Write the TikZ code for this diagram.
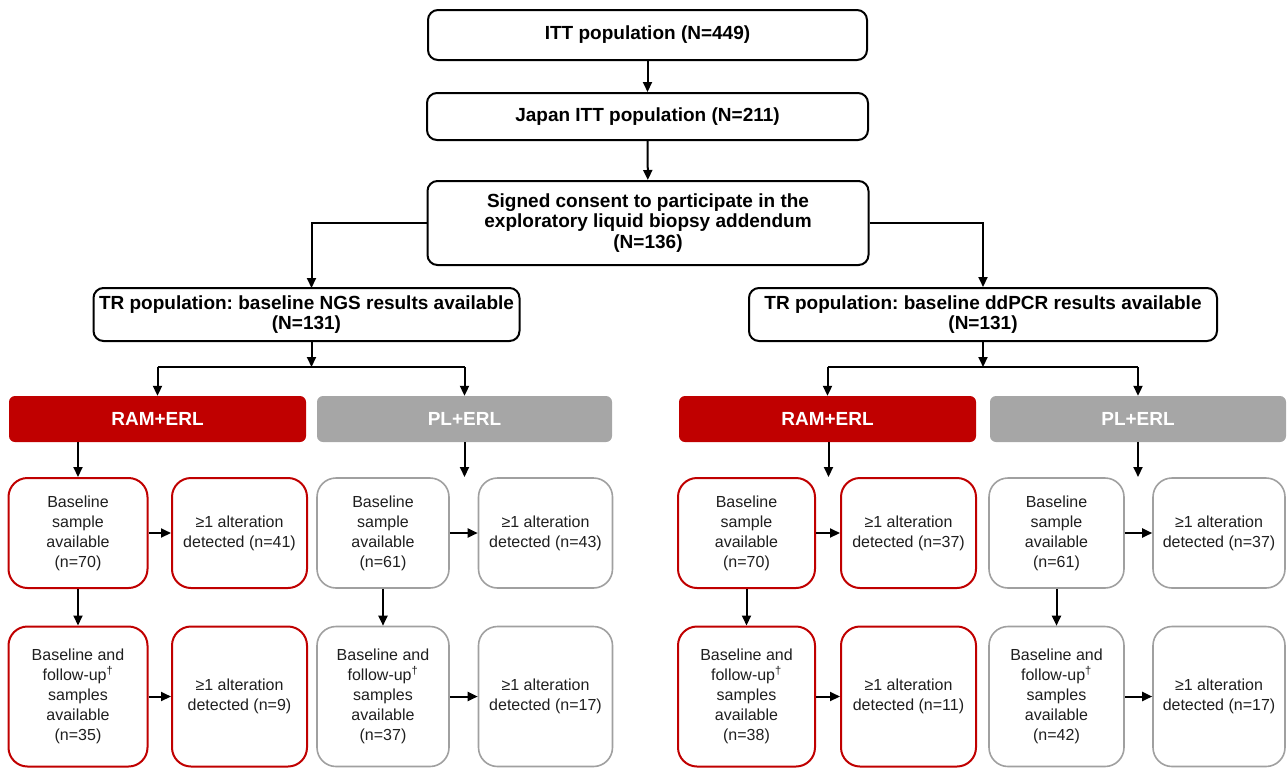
\documentclass[tikz,border=0pt]{standalone}
\usepackage{fontspec}
\setmainfont{Liberation Sans}
\usetikzlibrary{arrows.meta}
\definecolor{tred}{HTML}{C00000}
\definecolor{tgray}{HTML}{A6A6A6}
\definecolor{tgrayline}{HTML}{A0A0A0}
\frenchspacing
\begin{document}
\begin{tikzpicture}[x=1pt,y=-1pt,
 bbox/.style={draw=black, line width=2pt, rounded corners=10pt, align=center,
   font=\bfseries\fontsize{19}{20.5}\selectfont, inner sep=0pt, fill=white},
 hdr/.style={rounded corners=6pt, text=white, font=\bfseries\fontsize{19}{22}\selectfont,
   inner sep=0pt, minimum height=46pt},
 redhdr/.style={hdr, fill=tred},
 grayhdr/.style={hdr, fill=tgray},
 sbox/.style={rounded corners=19pt, align=center, font=\fontsize{16}{20}\selectfont,
   inner sep=0pt, fill=white, text=black!88},
 redbox/.style={sbox, draw=tred, line width=2pt},
 graybox/.style={sbox, draw=tgrayline, line width=1.6pt},
 arr/.style={-{Triangle[length=10pt,width=9pt]}, line width=2pt},
 ln/.style={line width=2pt}
]
\useasboundingbox (0,0) rectangle (1287,769);

% top chain
\node[bbox, minimum width=439pt, minimum height=50pt] (itt) at (647.5,35) {ITT population (N=449)};
\node[bbox, minimum width=441pt, minimum height=47pt] (jpn) at (647.5,116.5) {Japan ITT population (N=211)};
\node[bbox, minimum width=441pt, minimum height=84pt] (cons) at (648,223)
  {Signed consent to participate in the\\exploratory liquid biopsy addendum\\(N=136)};
\node[bbox, minimum width=426pt, minimum height=53pt] (ngs) at (306.5,314.5)
  {TR population: baseline NGS results available\\(N=131)};
\node[bbox, minimum width=468pt, minimum height=53pt] (ddp) at (983,314.5)
  {TR population: baseline ddPCR results available\\(N=131)};

\draw[arr] (itt) -- (jpn);
\draw[arr] (jpn) -- (cons);
\coordinate (ngsin) at (311.5,288);
\draw[arr] (cons.west) -| (ngsin);
\draw[arr] (cons.east) -| (ddp.north);

% arm headers
\node[redhdr, minimum width=297pt] (ram1) at (157.5,419) {RAM+ERL};
\node[grayhdr, minimum width=295pt] (pl1) at (464.5,419) {PL+ERL};
\node[redhdr, minimum width=297pt] (ram2) at (827.5,419) {RAM+ERL};
\node[grayhdr, minimum width=296pt] (pl2) at (1138,419) {PL+ERL};

% splits
\coordinate (ngsout) at (311.5,341);
\coordinate (j1) at (311.5,367);
\draw[arr] (ngsout) -- (j1);
\draw[ln] (ram1.north |- j1) -- (pl1.north |- j1);
\draw[arr] (ram1.north |- j1) -- (ram1.north);
\draw[arr] (pl1.north |- j1) -- (pl1.north);
\coordinate (j2) at (983,367);
\draw[arr] (ddp.south) -- (j2);
\draw[ln] (ram2.north |- j2) -- (pl2.north |- j2);
\draw[arr] (ram2.north |- j2) -- (ram2.north);
\draw[arr] (pl2.north |- j2) -- (pl2.north);

% sample boxes row 1
\node[redbox, minimum width=139pt, minimum height=110pt] (b1) at (78,533)
  {Baseline\\sample\\available\\(n=70)};
\node[redbox, minimum width=135pt, minimum height=110pt] (a1) at (239.5,533)
  {≥1 alteration\\detected (n=41)};
\node[graybox, minimum width=132pt, minimum height=110pt] (b2) at (383,533)
  {Baseline\\sample\\available\\(n=61)};
\node[graybox, minimum width=134pt, minimum height=110pt] (a2) at (545.5,533)
  {≥1 alteration\\detected (n=43)};
\node[redbox, minimum width=137pt, minimum height=110pt] (b3) at (746.5,533)
  {Baseline\\sample\\available\\(n=70)};
\node[redbox, minimum width=135pt, minimum height=110pt] (a3) at (908.5,533)
  {≥1 alteration\\detected (n=37)};
\node[graybox, minimum width=135pt, minimum height=110pt] (b4) at (1056.5,533)
  {Baseline\\sample\\available\\(n=61)};
\node[graybox, minimum width=132pt, minimum height=110pt] (a4) at (1219,533)
  {≥1 alteration\\detected (n=37)};

% sample boxes row 2
\node[redbox, minimum width=139pt, minimum height=140pt] (f1) at (78,696.5)
  {Baseline and\\follow-up\textsuperscript{†}\\samples\\available\\(n=35)};
\node[redbox, minimum width=135pt, minimum height=140pt] (g1) at (239.5,696.5)
  {≥1 alteration\\detected (n=9)};
\node[graybox, minimum width=132pt, minimum height=140pt] (f2) at (383,696.5)
  {Baseline and\\follow-up\textsuperscript{†}\\samples\\available\\(n=37)};
\node[graybox, minimum width=134pt, minimum height=140pt] (g2) at (545.5,696.5)
  {≥1 alteration\\detected (n=17)};
\node[redbox, minimum width=137pt, minimum height=140pt] (f3) at (746.5,696.5)
  {Baseline and\\follow-up\textsuperscript{†}\\samples\\available\\(n=38)};
\node[redbox, minimum width=135pt, minimum height=140pt] (g3) at (908.5,696.5)
  {≥1 alteration\\detected (n=11)};
\node[graybox, minimum width=135pt, minimum height=140pt] (f4) at (1056.5,696.5)
  {Baseline and\\follow-up\textsuperscript{†}\\samples\\available\\(n=42)};
\node[graybox, minimum width=132pt, minimum height=140pt] (g4) at (1219,696.5)
  {≥1 alteration\\detected (n=17)};

% header to samples
\draw[arr] (ram1.south -| b1.north) -- (b1.north);
\coordinate (e1) at (464.5,477);
\draw[arr] (pl1.south) -- (e1);
\coordinate (e2) at (828.5,477);
\draw[arr] (ram2.south -| e2) -- (e2);
\coordinate (e3) at (1138,477);
\draw[arr] (pl2.south) -- (e3);

% within arms
\foreach \i in {1,2,3,4}{
  \draw[arr] (b\i.east) -- (a\i.west);
  \draw[arr] (f\i.east) -- (g\i.west);
  \draw[arr] (b\i.south) -- (f\i.north);
}
\end{tikzpicture}
\end{document}
